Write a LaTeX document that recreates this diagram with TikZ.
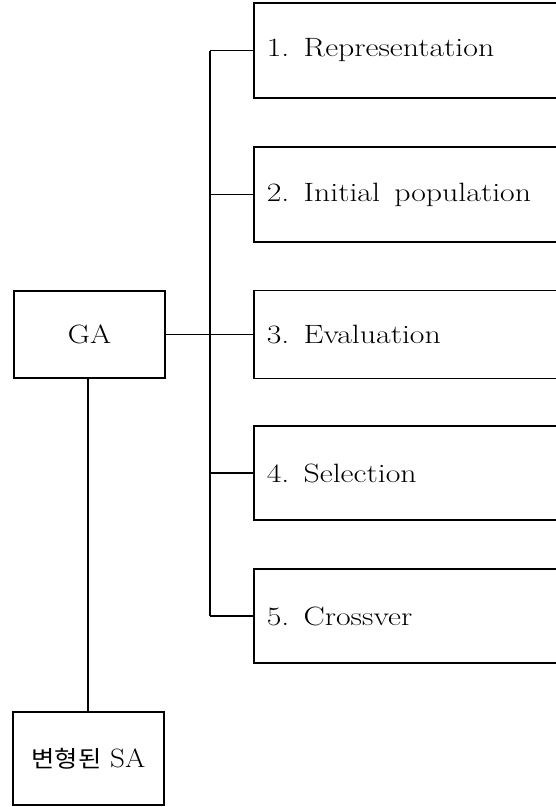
\documentclass[tikz,border=0pt]{standalone}
\usepackage{fontspec}
\newfontfamily\cjk{Noto Sans CJK KR}[Scale=1.0]
\begin{document}
\begin{tikzpicture}[x=1pt,y=-1pt,
  line width=1.6pt,
  txt/.style={font=\fontsize{26.5}{31}\selectfont},
  leftbox/.style={draw,line width=1.6pt,minimum width=151pt,inner sep=0pt,txt},
  stepbox/.style={draw,line width=1.6pt,anchor=west,minimum width=305pt,text width=279pt,inner xsep=13pt,inner ysep=0pt,align=left,txt}]
\useasboundingbox (0,0) rectangle (556,807);
\clip (0,0) rectangle (556,807);
\node[stepbox,minimum height=95pt] (s1) at (253,50.5) {\scalebox{1.2}[1]{1.\hspace{0.45em}Representation}};
\node[stepbox,minimum height=95pt] (s2) at (253,194.5) {\scalebox{1.2}[1]{2.\hspace{0.45em}Initial\hspace{0.45em}population}};
\node[stepbox,minimum height=88pt] (s3) at (253,334.5) {\scalebox{1.2}[1]{3.\hspace{0.45em}Evaluation}};
\node[stepbox,minimum height=94pt] (s4) at (253,473) {\scalebox{1.2}[1]{4.\hspace{0.45em}Selection}};
\node[stepbox,minimum height=94pt] (s5) at (253,616) {\scalebox{1.2}[1]{5.\hspace{0.45em}Crossver}};
\node[leftbox,minimum height=87pt] (ga) at (89.5,334.5) {\scalebox{1.15}[1]{GA}};
\node[leftbox,minimum height=93pt] (sa) at (88.5,758.5) {\scalebox{1.1}[1]{{\cjk\fontsize{23}{27}\selectfont 변형된}\hspace{0.3em}SA}};
\coordinate (t1) at (210,50.5);
\coordinate (t5) at (210,616);
\draw (t1) -- (t5);
\draw (t1) -- (s1.west);
\draw (210,194.5) -- (s2.west);
\draw (ga.east) -- (s3.west);
\draw (210,473) -- (s4.west);
\draw (t5) -- (s5.west);
\draw (ga.south -| 88,0) -- (sa.north -| 88,0);
\end{tikzpicture}
\end{document}
